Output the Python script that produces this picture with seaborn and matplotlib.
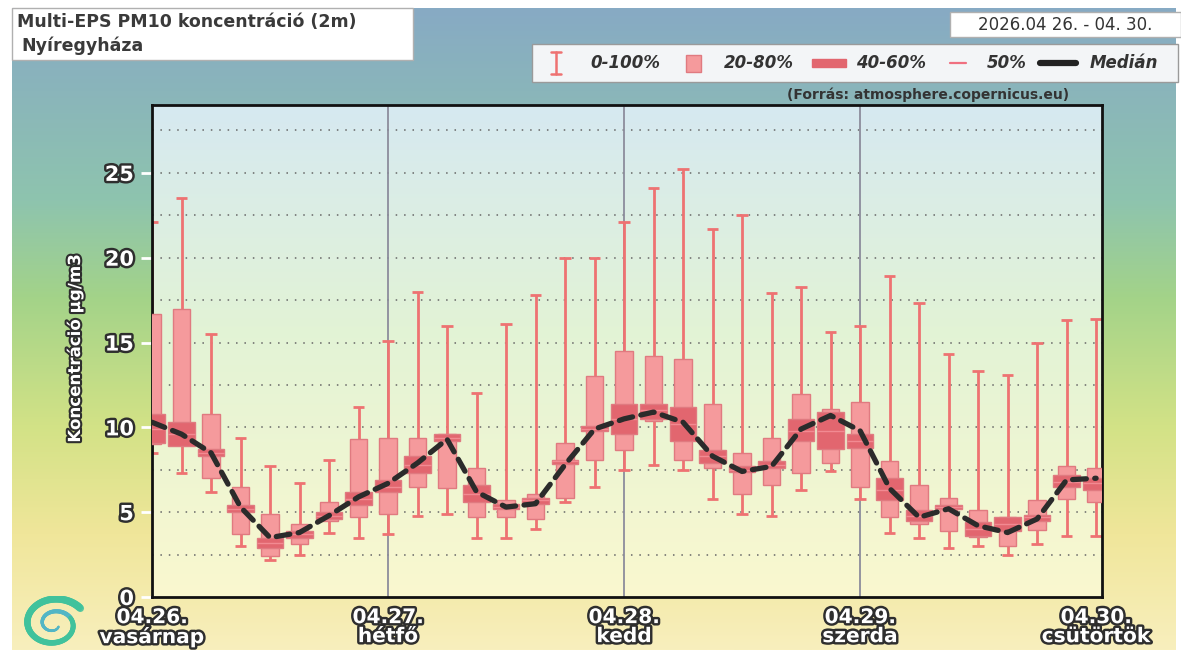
import numpy as np
import seaborn as sns
import matplotlib.pyplot as plt
import matplotlib.patheffects as pe
from matplotlib.patches import Rectangle
from matplotlib.lines import Line2D
from matplotlib.colors import LinearSegmentedColormap

# forecast steps, every 3 hours from 04.26. 00h
hours = list(range(0, 97, 3))

p0 = [8.5, 7.3, 6.2, 3.0, 2.2, 2.5, 3.8, 3.5, 3.7, 4.8, 4.9, 3.5, 3.5, 4.0, 5.6, 6.5, 7.5,
      7.8, 7.5, 5.8, 4.9, 4.8, 6.3, 7.4, 5.8, 3.8, 3.5, 2.9, 3.0, 2.5, 3.1, 3.6, 3.6]
p100 = [22.1, 23.5, 15.5, 9.4, 7.7, 6.7, 8.1, 11.2, 15.1, 18.0, 16.0, 12.0, 16.1, 17.8, 20.0,
        20.0, 22.1, 24.1, 25.2, 21.7, 22.5, 17.9, 18.3, 15.6, 16.0, 18.9, 17.3, 14.3, 13.3,
        13.1, 15.0, 16.3, 16.4]
p20 = [9.0, 9.0, 7.0, 3.7, 2.4, 3.1, 4.5, 4.7, 4.9, 6.5, 6.45, 4.7, 4.7, 4.6, 5.85, 8.05, 8.65,
       10.4, 8.1, 7.6, 6.1, 6.6, 7.3, 7.9, 6.5, 4.7, 4.3, 3.9, 3.55, 3.0, 3.95, 5.8, 5.6]
p80 = [16.7, 17.0, 10.8, 6.5, 4.9, 4.3, 5.6, 9.3, 9.35, 9.4, 9.6, 7.6, 5.7, 6.1, 9.05, 13.0,
       14.5, 14.2, 14.0, 11.4, 8.5, 9.4, 11.95, 11.1, 11.5, 8.0, 6.6, 5.85, 5.1, 4.7, 5.7, 7.75, 7.6]
p40 = [9.1, 8.9, 8.3, 5.0, 2.9, 3.5, 4.6, 5.4, 6.2, 7.3, 9.2, 5.6, 5.2, 5.5, 7.85, 9.8, 9.6,
       10.5, 9.2, 7.9, 7.35, 7.6, 9.2, 8.7, 8.8, 5.7, 4.5, 5.2, 3.6, 3.9, 4.5, 6.5, 6.3]
p60 = [10.8, 10.3, 8.7, 5.4, 3.5, 3.9, 5.0, 6.2, 6.9, 8.3, 9.6, 6.6, 5.5, 5.85, 8.1, 10.1, 11.4,
       11.4, 11.2, 8.65, 7.75, 8.0, 10.5, 10.9, 9.6, 7.0, 5.1, 5.4, 4.4, 4.7, 4.85, 7.2, 7.0]
p50 = [9.9, 9.6, 8.5, 5.2, 3.2, 3.7, 4.8, 5.8, 6.5, 7.8, 9.4, 6.1, 5.3, 5.7, 8.0, 9.9, 10.5,
       11.0, 10.2, 8.3, 7.5, 7.8, 9.8, 9.8, 9.2, 6.3, 4.8, 5.3, 4.0, 4.3, 4.7, 6.8, 6.7]
median = [10.3, 9.6, 8.5, 5.3, 3.5, 3.8, 4.8, 5.9, 6.7, 7.9, 9.3, 6.2, 5.3, 5.5, 7.8, 9.9, 10.5,
          10.9, 10.3, 8.3, 7.4, 7.7, 9.9, 10.7, 9.8, 6.4, 4.7, 5.2, 4.2, 3.8, 4.6, 6.9, 7.0]

day_ticks = [0, 24, 48, 72, 96]
day_labels = ['04.26.\nvasárnap', '04.27.\nhétfő', '04.28.\nkedd', '04.29.\nszerda',
              '04.30.\ncsütörtök']
y_ticks = [0, 5, 10, 15, 20, 25]

W, H = 1181, 658
WHISK = '#ee7272'
LIGHT = '#f59a9c'
DARK = '#e2666f'
EDGE = '#e07a80'


def fx(x):
    return x / W


def fy(y):
    return 1 - y / H


def outline(lw=3):
    return [pe.withStroke(linewidth=lw, foreground='#2e2e2e')]


sns.set_style("white")
plt.rcParams['font.family'] = ['DejaVu Sans']

fig = plt.figure(figsize=(W / 100, H / 100), dpi=100)

# page background gradient
bg_cmap = LinearSegmentedColormap.from_list(
    'bg', [(0.0, '#87aac4'), (0.3, '#8ec4ae'), (0.45, '#a3d389'),
           (0.65, '#d2e286'), (0.82, '#f0e69a'), (1.0, '#f8efbd')])
bg = fig.add_axes([fx(12), fy(650), fx(1176 - 12), (650 - 8) / H], zorder=-2)
bg.imshow(np.linspace(0, 1, 256).reshape(-1, 1), aspect='auto', cmap=bg_cmap,
          extent=[0, 1, 0, 1])
bg.axis('off')

ax = fig.add_axes([fx(152), fy(597), fx(950), 492 / H])
plot_cmap = LinearSegmentedColormap.from_list(
    'pl', [(0.0, '#d6e9f1'), (0.45, '#e2f3d6'), (1.0, '#faf8cf')])
ax.imshow(np.linspace(0, 1, 256).reshape(-1, 1), aspect='auto', cmap=plot_cmap,
          extent=[0, 96.6, 0, 29], zorder=0)

for y in np.arange(2.5, 28, 2.5):
    ax.axhline(y, color='#666666', lw=1.1, ls=(0, (1, 4.5)), zorder=1)
for d in day_ticks[1:4]:
    ax.axvline(d, color='#8c8c9c', lw=1.3, zorder=1)

ax.vlines(hours, p0, p100, color=WHISK, lw=2, zorder=2)
ax.hlines(p0, np.array(hours) - 0.6, np.array(hours) + 0.6, color=WHISK, lw=2, zorder=2)
ax.hlines(p100, np.array(hours) - 0.6, np.array(hours) + 0.6, color=WHISK, lw=2, zorder=2)
ax.bar(hours, np.array(p80) - np.array(p20), bottom=p20, width=1.8, color=LIGHT,
       edgecolor=EDGE, lw=1, zorder=3)
ax.bar(hours, np.array(p60) - np.array(p40), bottom=p40, width=2.7, color=DARK,
       edgecolor=EDGE, lw=1, zorder=4)
ax.hlines(p50, np.array(hours) - 1.35, np.array(hours) + 1.35, color='#f28a92', lw=1,
          zorder=5)

sns.lineplot(x=hours, y=median, ax=ax, color='#2b2b2b', lw=3.8,
             linestyle=(0, (2.6, 1.6)), dash_capstyle='round', zorder=6)

ax.set_xlim(0, 96.6)
ax.set_ylim(0, 29)
for s in ax.spines.values():
    s.set_color('#111111')
    s.set_linewidth(2)

ax.set_yticks(y_ticks)
ax.set_yticklabels([str(t) for t in y_ticks])
ax.tick_params(axis='y', direction='out', length=8, width=2, color='white', pad=5,
               left=True)
ax.set_xticks(day_ticks)
ax.set_xticklabels(day_labels)
ax.tick_params(axis='x', length=0, pad=8)
for lab in ax.get_yticklabels():
    lab.set_fontsize(15)
for lab in ax.get_xticklabels():
    lab.set_fontsize(14.5)
    lab.set_linespacing(1.0)
for lab in ax.get_yticklabels() + ax.get_xticklabels():
    lab.set_color('white')
    lab.set_fontweight('bold')
    lab.set_path_effects(outline(3.5))

ax.set_ylabel('Koncentráció µg/m3', color='white', fontsize=12, fontweight='bold',
              path_effects=outline(3))
ax.yaxis.set_label_coords((84 - 152) / 950, 0.505)

# title box
fig.patches.append(Rectangle((fx(12), fy(60)), fx(401), 52 / H, transform=fig.transFigure,
                             facecolor='white', edgecolor='#b0b0b0', lw=1, zorder=1))
fig.text(fx(17), fy(22), 'Multi-EPS PM10 koncentráció (2m)', fontsize=12.5,
         fontweight='bold', color='#3a3a3a', va='center', ha='left')
fig.text(fx(21), fy(46), 'Nyíregyháza', fontsize=12.5, fontweight='bold',
         color='#3a3a3a', va='center', ha='left')

# date box
fig.patches.append(Rectangle((fx(950), fy(37)), fx(231), 25 / H, transform=fig.transFigure,
                             facecolor='white', edgecolor='#b0b0b0', lw=1, zorder=1))
fig.text(fx(1065), fy(25), '2026.04 26. - 04. 30.', fontsize=12, color='#333333',
         va='center', ha='center')

# legend box
fig.patches.append(Rectangle((fx(532), fy(82)), fx(646), 38 / H, transform=fig.transFigure,
                             facecolor='#f3f5f7', edgecolor='#9a9a9a', lw=1, zorder=1))
ly = fy(63)
fig.add_artist(Line2D([fx(556), fx(556)], [fy(52), fy(74)], color=WHISK, lw=1.8))
fig.add_artist(Line2D([fx(551), fx(561)], [fy(52), fy(52)], color=WHISK, lw=1.8))
fig.add_artist(Line2D([fx(551), fx(561)], [fy(74), fy(74)], color=WHISK, lw=1.8))
fig.patches.append(Rectangle((fx(686), fy(72)), fx(15), 17 / H, transform=fig.transFigure,
                             facecolor=LIGHT, edgecolor=EDGE, lw=1, zorder=2))
fig.patches.append(Rectangle((fx(812), fy(67)), fx(34), 8 / H, transform=fig.transFigure,
                             facecolor=DARK, edgecolor=DARK, lw=1, zorder=2))
fig.add_artist(Line2D([fx(950), fx(966)], [ly, ly], color='#f07080', lw=1.6))
fig.add_artist(Line2D([fx(1040), fx(1076)], [ly, ly], color='#222222', lw=4.5))
for x, t in [(590, '0-100%'), (724, '20-80%'), (856, '40-60%'), (987, '50%'),
             (1090, 'Medián')]:
    fig.text(fx(x), ly, t, fontsize=12, fontstyle='italic', fontweight='bold',
             color='#333333', va='center', ha='left')

fig.text(fx(928), fy(95), '(Forrás: atmosphere.copernicus.eu)', fontsize=10,
         fontweight='bold', color='#333333', va='center', ha='center')

# logo swirl
lg = fig.add_axes([fx(20), fy(652), fx(68), 56 / H])
th = np.linspace(0.6, 3.8 * np.pi, 240)
r = 0.12 + 0.07 * th
for i in range(len(th) - 1):
    lg.plot(np.cos(-th[i:i + 2]) * r[i:i + 2], np.sin(-th[i:i + 2]) * r[i:i + 2] * 0.8,
            color='#40c29c' if i > 110 else '#52b6c6', lw=1.5 + 4 * i / len(th),
            solid_capstyle='round', alpha=0.85)
lg.set_xlim(-1.0, 1.0)
lg.set_ylim(-0.8, 0.8)
lg.axis('off')

fig.savefig('out.png', dpi=100)
